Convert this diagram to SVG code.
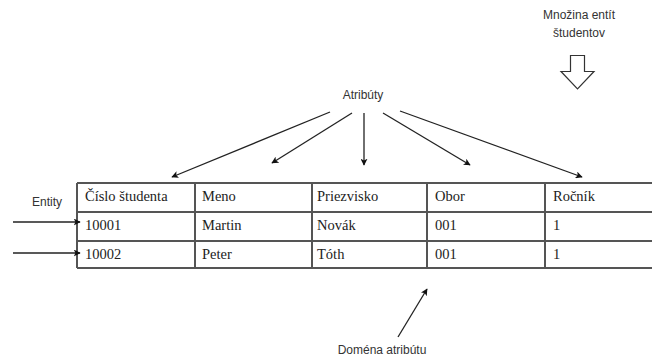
<svg xmlns="http://www.w3.org/2000/svg" width="652" height="358" viewBox="0 0 652 358">
  <style>
    .lbl { font-family: "Liberation Sans", Arial, sans-serif; font-size: 12px; fill: #333; }
    .cell { font-family: "Liberation Serif", "Times New Roman", serif; font-size: 14.5px; fill: #222; }
    .grid { stroke: #555; stroke-width: 2; fill: none; }
    .conn { stroke: #222; stroke-width: 1.3; fill: none; marker-end: url(#head); }
  </style>
  <defs>
    <marker id="head" viewBox="0 0 10 10" refX="9" refY="5" markerWidth="7" markerHeight="7" markerUnits="userSpaceOnUse" orient="auto">
      <path d="M0,0 L10,5 L0,10 L2.5,5 Z" fill="#111"/>
    </marker>
  </defs>
  <rect width="652" height="358" fill="#fff"/>

  <!-- entity-set label with hollow block arrow -->
  <g id="mnozina">
    <text class="lbl" x="579" y="19" text-anchor="middle">Množina entít</text>
    <text class="lbl" x="579" y="37" text-anchor="middle">študentov</text>
    <path d="M570.5,55.5 H584.5 V71.5 H594 L577.5,89 L561,71.5 H570.5 Z" fill="#fff" stroke="#333" stroke-width="1.2"/>
  </g>

  <g id="atributy">
    <text class="lbl" x="363" y="99" text-anchor="middle">Atribúty</text>
  </g>

  <g id="entity">
    <text class="lbl" x="47" y="206" text-anchor="middle">Entity</text>
  </g>

  <g id="domena">
    <text class="lbl" x="382" y="354" text-anchor="middle">Doména atribútu</text>
  </g>

  <!-- student table -->
  <g id="tabulka">
    <path class="grid" d="M77,183 H652 M77,212 H652 M77,241 H652 M77,268 H652 M77,183 V268 M195,183 V268 M312,183 V268 M427,183 V268 M545,183 V268"/>
    <text class="cell" x="85" y="201">Číslo študenta</text>
    <text class="cell" x="202" y="201">Meno</text>
    <text class="cell" x="317" y="201">Priezvisko</text>
    <text class="cell" x="435" y="201">Obor</text>
    <text class="cell" x="553" y="201">Ročník</text>
    <text class="cell" x="85" y="230">10001</text>
    <text class="cell" x="202" y="230">Martin</text>
    <text class="cell" x="317" y="230">Novák</text>
    <text class="cell" x="435" y="230">001</text>
    <text class="cell" x="553" y="230">1</text>
    <text class="cell" x="85" y="259">10002</text>
    <text class="cell" x="202" y="259">Peter</text>
    <text class="cell" x="317" y="259">Tóth</text>
    <text class="cell" x="435" y="259">001</text>
    <text class="cell" x="553" y="259">1</text>
  </g>

  <g id="connectors">
    <line class="conn" x1="330" y1="112" x2="172" y2="177"/>
    <line class="conn" x1="352" y1="113" x2="272" y2="163"/>
    <line class="conn" x1="364" y1="113" x2="364" y2="165"/>
    <line class="conn" x1="383" y1="113" x2="470" y2="165"/>
    <line class="conn" x1="400" y1="111" x2="582" y2="177"/>
    <line class="conn" x1="13" y1="222" x2="80" y2="222"/>
    <line class="conn" x1="13" y1="253" x2="80" y2="253"/>
    <line class="conn" x1="398" y1="337" x2="427" y2="289"/>
  </g>
</svg>
